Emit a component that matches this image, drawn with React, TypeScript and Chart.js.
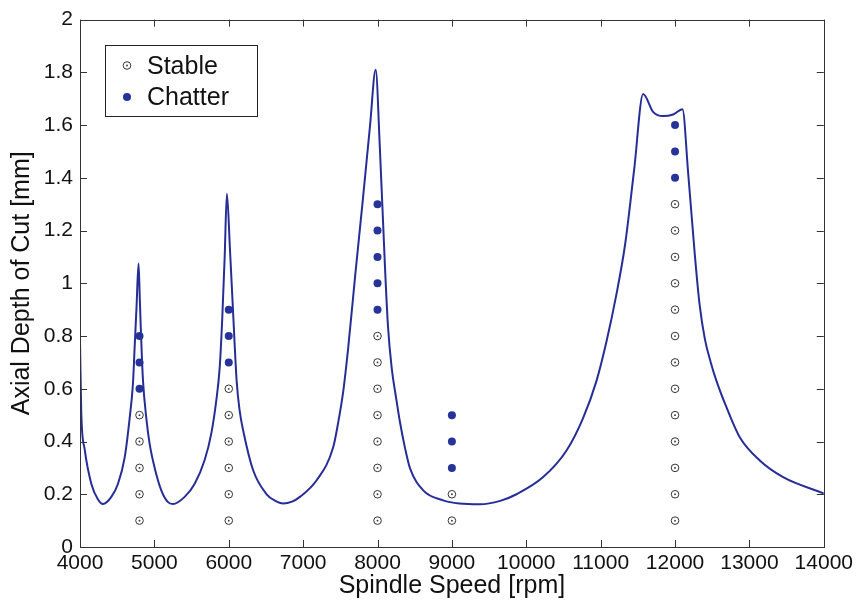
import React, { useEffect, useRef } from 'react';
import { Chart, registerables } from 'chart.js';

Chart.register(...registerables);

// Stability lobe boundary
const lobeSpeed = [
  4000, 4017, 4063, 4152, 4242, 4309, 4421, 4511, 4601, 4668, 4712, 4735, 4760, 4787,
  4802, 4816, 4832, 4847, 4891, 4937, 5004, 5093, 5183, 5250, 5407, 5542, 5676, 5765,
  5832, 5878, 5913, 5945, 5975, 6016, 6060, 6106, 6145, 6195, 6329, 6509, 6620, 6732,
  6850, 6957, 7181, 7404, 7470, 7539, 7606, 7700, 7800, 7900, 7975, 8032, 8099, 8140,
  8190, 8250, 8301, 8370, 8435, 8614, 8883, 9100, 9376, 9650, 9869, 10227, 10541, 10765,
  10944, 11079, 11213, 11330, 11450, 11571, 11705, 11840, 11974, 12100, 12176, 12266,
  12330, 12400, 12480, 12557, 12691, 12870, 13139, 13453, 14000,
];
const lobeDepth = [
  0.78, 0.51, 0.37, 0.24, 0.18, 0.163, 0.19, 0.24, 0.34, 0.49, 0.62, 0.76, 0.91, 1.075,
  0.96, 0.84, 0.72, 0.63, 0.49, 0.39, 0.3, 0.215, 0.17, 0.163, 0.19, 0.24, 0.33, 0.43,
  0.555, 0.68, 0.87, 1.1, 1.34, 1.13, 0.88, 0.63, 0.52, 0.44, 0.29, 0.2, 0.176, 0.165,
  0.172, 0.19, 0.253, 0.378, 0.47, 0.59, 0.756, 1.03, 1.31, 1.6, 1.81, 1.51, 1.07, 0.84,
  0.68, 0.565, 0.475, 0.375, 0.3, 0.215, 0.177, 0.165, 0.162, 0.175, 0.2, 0.265, 0.366, 0.49,
  0.63, 0.78, 0.96, 1.15, 1.43, 1.718, 1.65, 1.634, 1.64, 1.66, 1.42, 1.108,
  0.92, 0.79, 0.7, 0.63, 0.53, 0.416, 0.328, 0.265, 0.203,
];

// Cutting tests
const testSpeeds = [4800, 6000, 8000, 9000, 12000];
const stableDepths = [
  [0.1, 0.2, 0.3, 0.4, 0.5],
  [0.1, 0.2, 0.3, 0.4, 0.5, 0.6],
  [0.1, 0.2, 0.3, 0.4, 0.5, 0.6, 0.7, 0.8],
  [0.1, 0.2],
  [0.1, 0.2, 0.3, 0.4, 0.5, 0.6, 0.7, 0.8, 0.9, 1.0, 1.1, 1.2, 1.3],
];
const chatterDepths = [
  [0.6, 0.7, 0.8],
  [0.7, 0.8, 0.9],
  [0.9, 1.0, 1.1, 1.2, 1.3],
  [0.3, 0.4, 0.5],
  [1.4, 1.5, 1.6],
];

const xTicks = [4000, 5000, 6000, 7000, 8000, 9000, 10000, 11000, 12000, 13000, 14000];
const yTicks = [0, 0.2, 0.4, 0.6, 0.8, 1, 1.2, 1.4, 1.6, 1.8, 2];

const LINE_BLUE = '#262e96';
const DOT_BLUE = '#263399';
const FONT = "'Liberation Sans', Arial, sans-serif";

const boxPlugin = {
  id: 'matlabBox',
  afterDraw(chart: any) {
    const { ctx, chartArea: a, scales } = chart;
    ctx.save();
    ctx.strokeStyle = '#333';
    ctx.lineWidth = 1;
    ctx.strokeRect(Math.round(a.left) + 0.5, Math.round(a.top) + 0.5, Math.round(a.right - a.left), Math.round(a.bottom - a.top));
    const L = 7;
    ctx.beginPath();
    xTicks.forEach((v) => {
      const px = Math.round(scales.x.getPixelForValue(v)) + 0.5;
      ctx.moveTo(px, a.bottom);
      ctx.lineTo(px, a.bottom - L);
      ctx.moveTo(px, a.top);
      ctx.lineTo(px, a.top + L);
    });
    yTicks.forEach((v) => {
      const py = Math.round(scales.y.getPixelForValue(v)) + 0.5;
      ctx.moveTo(a.left, py);
      ctx.lineTo(a.left + L, py);
      ctx.moveTo(a.right, py);
      ctx.lineTo(a.right - L, py);
    });
    ctx.stroke();

    // legend box
    const lx = 105.5, ly = 45.5, lw = 152, lh = 71;
    ctx.fillStyle = '#fff';
    ctx.fillRect(lx, ly, lw, lh);
    ctx.strokeStyle = '#222';
    ctx.strokeRect(lx, ly, lw, lh);
    // stable marker
    ctx.beginPath();
    ctx.arc(127, 65.5, 3.8, 0, Math.PI * 2);
    ctx.fillStyle = '#fff';
    ctx.fill();
    ctx.strokeStyle = '#333';
    ctx.stroke();
    ctx.beginPath();
    ctx.arc(127, 65.5, 0.9, 0, Math.PI * 2);
    ctx.fillStyle = '#333';
    ctx.fill();
    // chatter marker
    ctx.beginPath();
    ctx.arc(127, 97, 4, 0, Math.PI * 2);
    ctx.fillStyle = DOT_BLUE;
    ctx.fill();
    ctx.fillStyle = '#111';
    ctx.font = `25px ${FONT}`;
    ctx.textBaseline = 'alphabetic';
    ctx.textAlign = 'left';
    ctx.fillText('Stable', 147, 74);
    ctx.fillText('Chatter', 147, 105);
    ctx.restore();
  },
};

export default function App() {
  const ref = useRef<HTMLCanvasElement | null>(null);

  useEffect(() => {
    if (!ref.current) return;
    const lobe = lobeSpeed.map((s, i) => ({ x: s, y: lobeDepth[i] }));
    const stable: { x: number; y: number }[] = [];
    const chatter: { x: number; y: number }[] = [];
    testSpeeds.forEach((s, i) => {
      stableDepths[i].forEach((d) => stable.push({ x: s, y: d }));
      chatterDepths[i].forEach((d) => chatter.push({ x: s, y: d }));
    });

    const chart = new Chart(ref.current, {
      type: 'scatter',
      data: {
        datasets: [
          {
            label: 'Stable centre',
            data: stable,
            pointRadius: 0.9,
            pointBackgroundColor: '#333',
            pointBorderWidth: 0,
            showLine: false,
            order: 0,
          },
          {
            label: 'Stable',
            data: stable,
            pointRadius: 3.8,
            pointBackgroundColor: '#fff',
            pointBorderColor: '#333',
            pointBorderWidth: 1,
            showLine: false,
            order: 1,
          },
          {
            label: 'Chatter',
            data: chatter,
            pointRadius: 4,
            pointBackgroundColor: DOT_BLUE,
            pointBorderWidth: 0,
            showLine: false,
            order: 2,
          },
          {
            label: 'Lobes',
            data: lobe,
            showLine: true,
            borderColor: LINE_BLUE,
            borderWidth: 2,
            pointRadius: 0,
            cubicInterpolationMode: 'monotone',
            order: 3,
          } as any,
        ],
      },
      options: {
        responsive: false,
        devicePixelRatio: 1,
        animation: false,
        layout: { padding: { top: 17, right: 33, left: 0, bottom: 0 } },
        plugins: { legend: { display: false }, tooltip: { enabled: false } },
        scales: {
          x: {
            type: 'linear',
            min: 4000,
            max: 14000,
            afterFit: (s: any) => { s.height = 56; },
            afterBuildTicks: (s: any) => { s.ticks = xTicks.map((v) => ({ value: v })); },
            ticks: {
              callback: (v: any) => String(v),
              font: { family: FONT, size: 21 },
              color: '#111',
              padding: 4,
              maxRotation: 0,
              autoSkip: false,
            },
            grid: { drawOnChartArea: false, drawTicks: false },
            border: { display: false },
            title: {
              display: true,
              text: 'Spindle Speed [rpm]',
              font: { family: FONT, size: 25 },
              color: '#111',
              padding: { top: 0, bottom: 2 },
            },
          },
          y: {
            type: 'linear',
            min: 0,
            max: 2,
            afterFit: (s: any) => { s.width = 80; },
            afterBuildTicks: (s: any) => { s.ticks = yTicks.map((v) => ({ value: v })); },
            ticks: {
              callback: (v: any) => String(Math.round(Number(v) * 10) / 10),
              font: { family: FONT, size: 21 },
              color: '#111',
              padding: 7,
              autoSkip: false,
            },
            grid: { drawOnChartArea: false, drawTicks: false },
            border: { display: false },
            title: {
              display: true,
              text: 'Axial Depth of Cut [mm]',
              font: { family: FONT, size: 25 },
              color: '#111',
              padding: { top: 7, bottom: 0 },
            },
          },
        },
      },
      plugins: [boxPlugin],
    });
    return () => chart.destroy();
  }, []);

  return (
    <div style={{ position: 'absolute', left: 0, top: 0, width: 857, height: 603, background: '#fff' }}>
      <canvas ref={ref} width={857} height={603} style={{ display: 'block' }} />
    </div>
  );
}
